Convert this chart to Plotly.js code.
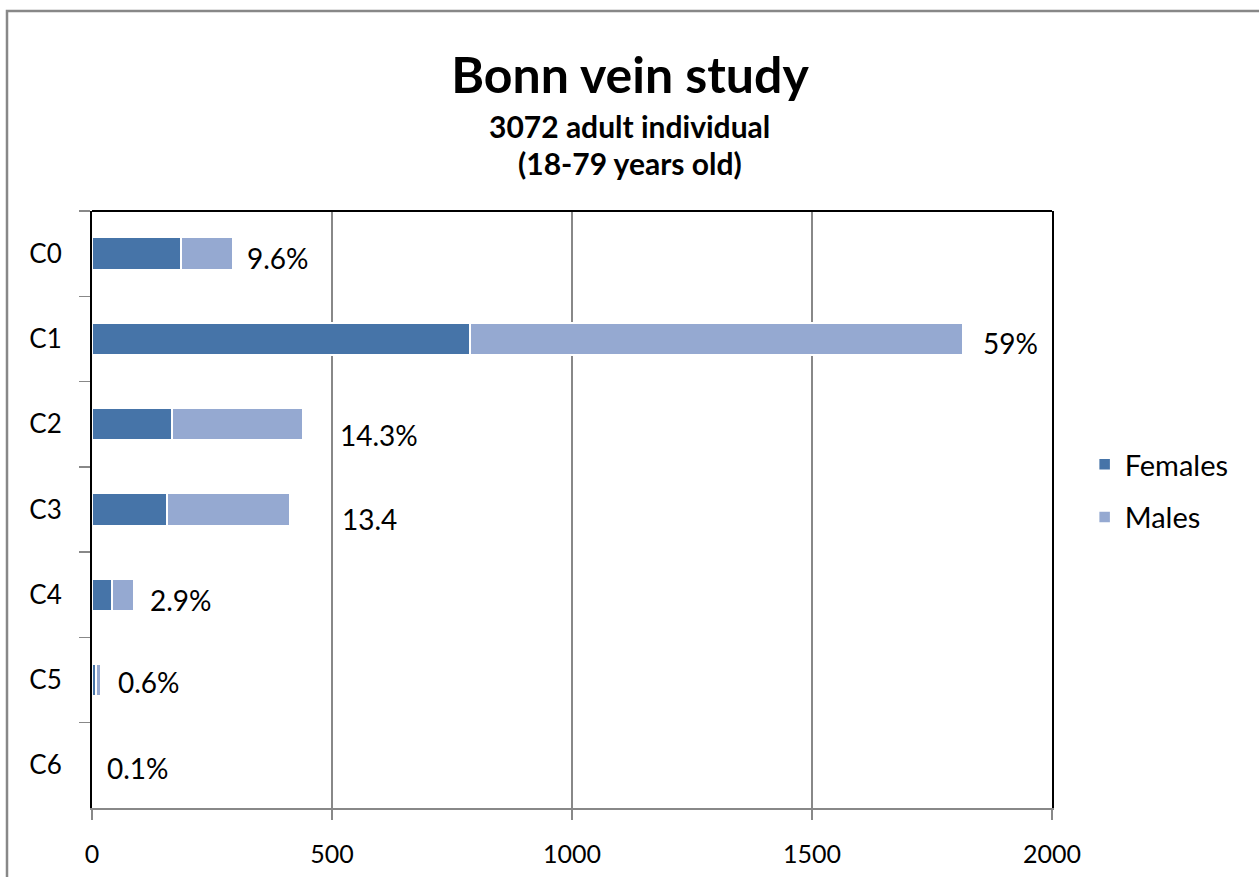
<!DOCTYPE html>
<html><head><meta charset="utf-8">
<script src="https://cdn.plot.ly/plotly-3.0.1.min.js"></script>
<style>html,body{margin:0;padding:0;background:#fff}#chart{width:1259px;height:877px}</style>
</head><body><div id="chart"></div>
<script>
const categories = ["C0","C1","C2","C3","C4","C5","C6"];
const females = [185, 787, 167, 156, 42, 8, 1];
const males   = [109, 1028, 273, 256, 46, 11, 2];
const labels  = ["9.6%","59%","14.3%","13.4","2.9%","0.6%","0.1%"];
const xTicks  = [0, 500, 1000, 1500, 2000];

// label styling offsets (pixels)
const labelXShift = [12, 18, 35, 50, 14, 15, 12];
const labelYShift = [-4, -4, -11, -9, -5, -2, -3];

const FONT = "Lato, 'Open Sans', sans-serif";
const totals = females.map((f,i)=>f+males[i]);

const traces = [
  {type:'bar', orientation:'h', name:'Females', y:categories, x:females,
   marker:{color:'#4674A8', line:{color:'#ffffff', width:1.5}}, legendgroup:'f'},
  {type:'bar', orientation:'h', name:'Males', y:categories, x:males,
   marker:{color:'#95A9D1', line:{color:'#ffffff', width:1.5}}, legendgroup:'m'}
];

const annotations = labels.map((t,i)=>({
  x: totals[i], y: categories[i], xref:'x', yref:'y', text:t, showarrow:false,
  xanchor:'left', yanchor:'middle', xshift: labelXShift[i], yshift: labelYShift[i],
  font:{family:FONT, size:28, color:'#000'}
}));
annotations.push({
  xref:'paper', yref:'paper', x:0.5604, y:(808-126)/597, xanchor:'center', yanchor:'middle',
  text:'<b>3072 adult individual</b>', showarrow:false, font:{family:FONT, size:30, color:'#000'}
});
annotations.push({
  xref:'paper', yref:'paper', x:0.5604, y:(808-163)/597, xanchor:'center', yanchor:'middle',
  text:'<b>(18-79 years old)</b>', showarrow:false, font:{family:FONT, size:30, color:'#000'}
});

const layout = {
  width:1259, height:877,
  margin:{l:92, r:207, t:211, b:69},
  paper_bgcolor:'#fff', plot_bgcolor:'#fff',
  barmode:'stack', bargap:0.625,
  title:{text:'<b>Bonn vein study</b>', x:630/1259, xref:'container', xanchor:'center', y:1-(75/877), yanchor:'middle',
         font:{family:FONT, size:50, color:'#000'}},
  xaxis:{range:[0,2000], tickvals:xTicks, ticktext:xTicks.map(String), showgrid:true,
         gridcolor:'#888', gridwidth:1.5, zeroline:false, showline:true, linecolor:'#888', linewidth:2,
         ticks:'outside', ticklen:10, tickcolor:'#888', tickwidth:1.5, ticklabelstandoff:13,
         tickfont:{family:FONT, size:25, color:'#000'}, fixedrange:true},
  yaxis:{type:'category', autorange:'reversed', showline:true, linecolor:'#000', linewidth:2, mirror:true,
         ticks:'outside', tickson:'boundaries', ticklen:11, tickcolor:'#888', tickwidth:1.5,
         ticklabelstandoff:23, showgrid:false,
         tickfont:{family:FONT, size:26, color:'#000'}},
  legend:{x:1.034, y:0.531, xanchor:'left', yanchor:'middle', traceorder:'grouped', tracegroupgap:12,
          font:{family:FONT, size:29, color:'#000'}, bgcolor:'rgba(0,0,0,0)'},
  annotations:annotations,
  shapes:[
    {type:'line', xref:'paper', yref:'paper', x0:0, x1:1, y0:1, y1:1, line:{color:'#000', width:2}},
    {type:'rect', xref:'paper', yref:'paper', x0:(7-92)/960, x1:1.5, y0:-0.5, y1:(808-11)/597,
     line:{color:'#888', width:2.5}, fillcolor:'rgba(0,0,0,0)', layer:'below'}
  ],
  showlegend:true
};

Plotly.newPlot('chart', traces, layout, {displayModeBar:false, staticPlot:true});
</script></body></html>
